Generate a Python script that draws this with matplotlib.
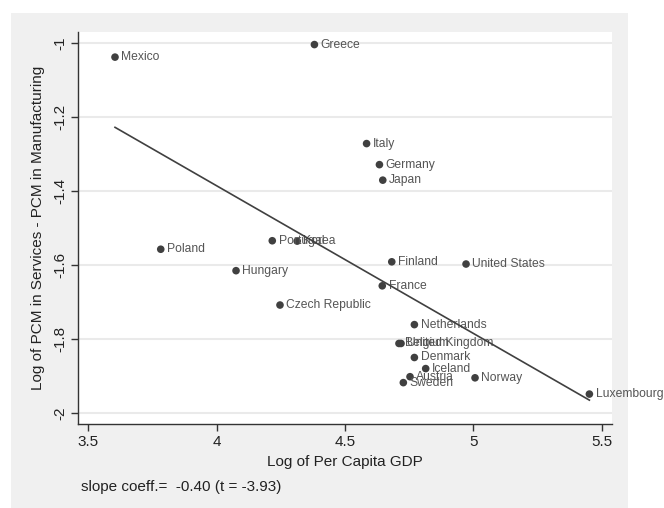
import matplotlib
matplotlib.use("Agg")
import matplotlib.pyplot as plt
from matplotlib.patches import Rectangle

plt.rcParams['font.family'] = ['Liberation Sans', 'DejaVu Sans']

countries = ["Greece", "Mexico", "Italy", "Germany", "Japan", "Korea", "Portugal",
             "Poland", "Hungary", "Finland", "United States", "France", "Czech Republic",
             "Netherlands", "Belgium", "United Kingdom", "Denmark", "Iceland", "Austria",
             "Sweden", "Norway", "Luxembourg"]
log_gdp = [4.381, 3.605, 4.584, 4.634, 4.647, 4.314, 4.217,
           3.783, 4.076, 4.682, 4.971, 4.645, 4.247,
           4.770, 4.710, 4.718, 4.770, 4.814, 4.753,
           4.727, 5.006, 5.451]
log_pcm = [-1.003, -1.037, -1.271, -1.328, -1.370, -1.535, -1.534,
           -1.557, -1.615, -1.591, -1.597, -1.656, -1.708,
           -1.761, -1.812, -1.812, -1.850, -1.880, -1.902,
           -1.918, -1.905, -1.949]

fit_slope = -0.40
fit_intercept = 0.215

x_ticks = [3.5, 4, 4.5, 5, 5.5]
x_ticklabels = ["3.5", "4", "4.5", "5", "5.5"]
y_ticks = [-1, -1.2, -1.4, -1.6, -1.8, -2]
y_ticklabels = ["-1", "-1.2", "-1.4", "-1.6", "-1.8", "-2"]

x_title = "Log of Per Capita GDP"
y_title = "Log of PCM in Services - PCM in Manufacturing"
note = "slope coeff.=  -0.40 (t = -3.93)"

W, H = 664, 508
fig = plt.figure(figsize=(W / 100, H / 100), dpi=100, facecolor="white")

# gray graph region
fig.patches.append(Rectangle((11 / W, 0), (628 - 11) / W, 1 - 13 / H,
                             transform=fig.transFigure, facecolor="#f0f0f0",
                             edgecolor="none", zorder=-10))

ax = fig.add_axes([78 / W, 1 - 424 / H, (612 - 78) / W, (424 - 32) / H])
ax.set_facecolor("white")
ax.set_xlim(3.461, 5.539)
ax.set_ylim(-2.030, -0.969)

for yt in y_ticks:
    ax.axhline(yt, color="#eaeaea", lw=1.5, zorder=0)

ax.scatter(log_gdp, log_pcm, s=30, color="#404040", zorder=3, edgecolors="none")
for name, xv, yv in zip(countries, log_gdp, log_pcm):
    ax.annotate(name, (xv, yv), xytext=(4.5, 0), textcoords="offset points",
                ha="left", va="center", fontsize=8.7, color="#555555", zorder=4)

xs = [min(log_gdp), max(log_gdp)]
ys = [fit_intercept + fit_slope * v for v in xs]
ax.plot(xs, ys, color="#404040", lw=1.2, zorder=5)

ax.set_xticks(x_ticks)
ax.set_xticklabels(x_ticklabels)
ax.set_yticks(y_ticks)
ax.set_yticklabels(y_ticklabels, rotation=90, va="center")
ax.tick_params(axis="both", direction="out", length=5, width=1, color="#333333",
               labelsize=11, labelcolor="#222222", pad=3)

for s in ["top", "right"]:
    ax.spines[s].set_visible(False)
for s in ["left", "bottom"]:
    ax.spines[s].set_color("#333333")
    ax.spines[s].set_linewidth(1)

ax.set_xlabel(x_title, fontsize=11, color="#222222", labelpad=4)
ax.set_ylabel(y_title, fontsize=11, color="#222222", labelpad=6)

fig.text(81 / W, 1 - 487 / H, note, fontsize=11, color="#222222", ha="left", va="center")

fig.savefig("out.png", dpi=100, facecolor="white")
